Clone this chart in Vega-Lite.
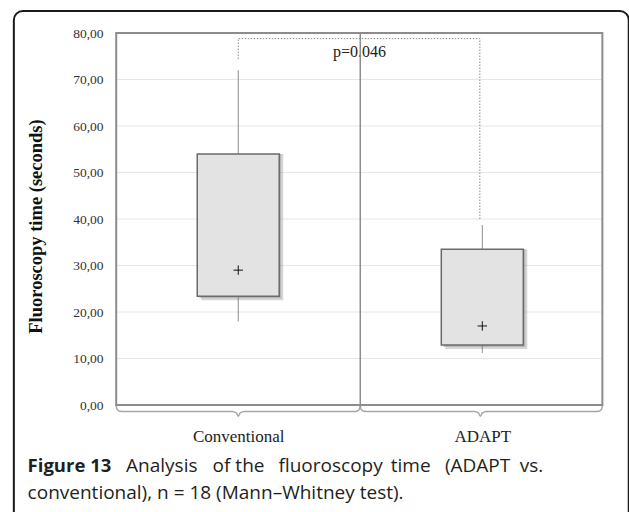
{
  "$schema": "https://vega.github.io/schema/vega-lite/v6.json",
  "width": 629,
  "height": 512,
  "autosize": {"type": "none"},
  "padding": 0,
  "background": "white",
  "config": {"view": {"stroke": null}},
  "datasets": {
    "boxes": [
      {"group": "Conventional", "pos": 1, "min": 18, "q1": 23.4, "q3": 54, "max": 72, "mean": 29},
      {"group": "ADAPT", "pos": 2, "min": 11.2, "q1": 12.9, "q3": 33.5, "max": 38.7, "mean": 17}
    ],
    "grid": [{"g": 10}, {"g": 20}, {"g": 30}, {"g": 40}, {"g": 50}, {"g": 60}, {"g": 70}],
    "bracket": [
      {"i": 0, "bx": 1, "by": 74.4},
      {"i": 1, "bx": 1, "by": 78.8},
      {"i": 2, "bx": 1.99, "by": 78.8},
      {"i": 3, "bx": 1.99, "by": 39.8}
    ],
    "braces": [
      {"b": "left", "i": 0, "x": 0.5, "y": 0},
      {"b": "left", "i": 1, "x": 0.503, "y": -0.9},
      {"b": "left", "i": 2, "x": 0.515, "y": -1.35},
      {"b": "left", "i": 3, "x": 0.53, "y": -1.4},
      {"b": "left", "i": 4, "x": 0.975, "y": -1.4},
      {"b": "left", "i": 5, "x": 0.992, "y": -1.7},
      {"b": "left", "i": 6, "x": 1.0, "y": -2.4},
      {"b": "left", "i": 7, "x": 1.008, "y": -1.7},
      {"b": "left", "i": 8, "x": 1.025, "y": -1.4},
      {"b": "left", "i": 9, "x": 1.47, "y": -1.4},
      {"b": "left", "i": 10, "x": 1.485, "y": -1.35},
      {"b": "left", "i": 11, "x": 1.497, "y": -0.9},
      {"b": "left", "i": 12, "x": 1.5, "y": 0},
      {"b": "right", "i": 0, "x": 1.5, "y": 0},
      {"b": "right", "i": 1, "x": 1.503, "y": -0.9},
      {"b": "right", "i": 2, "x": 1.515, "y": -1.35},
      {"b": "right", "i": 3, "x": 1.53, "y": -1.4},
      {"b": "right", "i": 4, "x": 1.967, "y": -1.4},
      {"b": "right", "i": 5, "x": 1.984, "y": -1.7},
      {"b": "right", "i": 6, "x": 1.992, "y": -2.4},
      {"b": "right", "i": 7, "x": 2.0, "y": -1.7},
      {"b": "right", "i": 8, "x": 2.017, "y": -1.4},
      {"b": "right", "i": 9, "x": 2.462, "y": -1.4},
      {"b": "right", "i": 10, "x": 2.477, "y": -1.35},
      {"b": "right", "i": 11, "x": 2.489, "y": -0.9},
      {"b": "right", "i": 12, "x": 2.492, "y": 0}
    ],
    "one": [{}]
  },
  "layer": [
    {
      "data": {"name": "boxes"},
      "mark": {"type": "rule", "opacity": 0},
      "encoding": {
        "x": {
          "field": "pos", "type": "quantitative",
          "scale": {"domain": [0.04435, 2.5806], "nice": false, "zero": false},
          "axis": {"values": [1, 2], "labelExpr": "datum.value == 1 ? 'Conventional' : 'ADAPT'", "offset": -107, "domain": false, "ticks": false, "grid": false, "labelPadding": 23, "labelFont": "Liberation Serif", "labelFontSize": 17, "labelColor": "#222", "title": null}
        },
        "y": {
          "field": "q1", "type": "quantitative",
          "scale": {"domain": [-23.01, 87.1], "nice": false, "zero": false},
          "axis": {"values": [0, 10, 20, 30, 40, 50, 60, 70, 80], "labelExpr": "replace(format(datum.value, '.2f'), '.', ',')", "offset": -113, "domain": false, "ticks": false, "grid": false, "labelPadding": 10, "labelFont": "Liberation Serif", "labelFontSize": 13.5, "labelColor": "#333", "title": "Fluoroscopy time (seconds)", "titleFont": "Liberation Serif", "titleFontSize": 18.5, "titleFontWeight": "bold", "titleColor": "#111", "titlePadding": 27, "titleY": 226}
        },
        "y2": {"field": "q3"}
      }
    },
    {
      "data": {"name": "one"},
      "mark": {"type": "rect", "fillOpacity": 0, "stroke": "#1a1a1a", "strokeWidth": 2, "cornerRadius": 9, "clip": false},
      "encoding": {
        "x": {"datum": 0.0806, "type": "quantitative"},
        "x2": {"datum": 2.6},
        "y": {"datum": 84.73, "type": "quantitative"},
        "y2": {"datum": -27}
      }
    },
    {
      "data": {"name": "grid"},
      "mark": {"type": "rule", "color": "#e6e6e6", "strokeWidth": 1},
      "encoding": {
        "y": {"field": "g", "type": "quantitative"},
        "x": {"datum": 0.5, "type": "quantitative"},
        "x2": {"datum": 2.492}
      }
    },
    {
      "data": {"name": "braces"},
      "mark": {"type": "line", "color": "#a6a6a6", "strokeWidth": 1.5, "interpolate": "monotone", "clip": false},
      "encoding": {
        "x": {"field": "x", "type": "quantitative"},
        "y": {"field": "y", "type": "quantitative"},
        "detail": {"field": "b"},
        "order": {"field": "i"}
      }
    },
    {
      "data": {"name": "one"},
      "mark": {"type": "rect", "fillOpacity": 0, "stroke": "#8c8c8c", "strokeWidth": 2},
      "encoding": {
        "x": {"datum": 0.5, "type": "quantitative"},
        "x2": {"datum": 2.492},
        "y": {"datum": 0, "type": "quantitative"},
        "y2": {"datum": 80}
      }
    },
    {
      "data": {"name": "boxes"},
      "mark": {"type": "rule", "color": "#8c8c8c", "strokeWidth": 1},
      "encoding": {
        "x": {"field": "pos", "type": "quantitative"},
        "y": {"field": "min", "type": "quantitative"},
        "y2": {"field": "q1"}
      }
    },
    {
      "data": {"name": "boxes"},
      "mark": {"type": "rule", "color": "#8c8c8c", "strokeWidth": 1},
      "encoding": {
        "x": {"field": "pos", "type": "quantitative"},
        "y": {"field": "q3", "type": "quantitative"},
        "y2": {"field": "max"}
      }
    },
    {
      "data": {"name": "bracket"},
      "mark": {"type": "line", "color": "#8c8c8c", "strokeWidth": 1, "strokeDash": [1.5, 1.5]},
      "encoding": {
        "x": {"field": "bx", "type": "quantitative"},
        "y": {"field": "by", "type": "quantitative"},
        "order": {"field": "i"}
      }
    },
    {
      "data": {"name": "one"},
      "mark": {"type": "text", "text": "p=0.046", "font": "Liberation Serif", "fontSize": 16, "color": "#222", "align": "center", "baseline": "middle"},
      "encoding": {
        "x": {"datum": 1.497, "type": "quantitative"},
        "y": {"datum": 75.9, "type": "quantitative"}
      }
    },
    {
      "data": {"name": "one"},
      "mark": {"type": "rule", "color": "#8c8c8c", "strokeWidth": 1.5},
      "encoding": {
        "x": {"datum": 1.5, "type": "quantitative"},
        "y": {"datum": -0.3, "type": "quantitative"},
        "y2": {"datum": 80}
      }
    },
    {
      "data": {"name": "boxes"},
      "mark": {"type": "bar", "width": 82, "color": "#7a7a7a", "opacity": 0.3, "xOffset": 4, "yOffset": 4},
      "encoding": {
        "x": {"field": "pos", "type": "quantitative"},
        "y": {"field": "q1", "type": "quantitative"},
        "y2": {"field": "q3"}
      }
    },
    {
      "data": {"name": "boxes"},
      "mark": {"type": "bar", "width": 82, "color": "#7a7a7a", "opacity": 0.35, "xOffset": 2, "yOffset": 2},
      "encoding": {
        "x": {"field": "pos", "type": "quantitative"},
        "y": {"field": "q1", "type": "quantitative"},
        "y2": {"field": "q3"}
      }
    },
    {
      "data": {"name": "boxes"},
      "mark": {"type": "bar", "width": 82, "fill": "#e3e3e3", "stroke": "#6b6b6b", "strokeWidth": 1.5},
      "encoding": {
        "x": {"field": "pos", "type": "quantitative"},
        "y": {"field": "q1", "type": "quantitative"},
        "y2": {"field": "q3"}
      }
    },
    {
      "data": {"name": "boxes"},
      "mark": {"type": "point", "shape": "M-1,0L1,0M0,-1L0,1", "size": 90, "filled": false, "color": "#111", "strokeWidth": 1, "opacity": 1},
      "encoding": {
        "x": {"field": "pos", "type": "quantitative"},
        "y": {"field": "mean", "type": "quantitative"}
      }
    },
    {
      "data": {"name": "one"},
      "mark": {"type": "text", "text": "Figure 13", "font": "Open Sans", "fontSize": 18.5, "fontWeight": "bold", "color": "#231f20", "align": "left", "baseline": "alphabetic"},
      "encoding": {
        "x": {"datum": 0.137, "type": "quantitative"},
        "y": {"datum": -14.5, "type": "quantitative"}
      }
    },
    {
      "data": {"name": "one"},
      "mark": {"type": "text", "text": "Analysis", "font": "Open Sans", "fontSize": 19, "color": "#231f20", "align": "left", "baseline": "alphabetic"},
      "encoding": {
        "x": {"datum": 0.5403, "type": "quantitative"},
        "y": {"datum": -14.5, "type": "quantitative"}
      }
    },
    {
      "data": {"name": "one"},
      "mark": {"type": "text", "text": "of the", "font": "Open Sans", "fontSize": 19, "color": "#231f20", "align": "left", "baseline": "alphabetic"},
      "encoding": {
        "x": {"datum": 0.895, "type": "quantitative"},
        "y": {"datum": -14.5, "type": "quantitative"}
      }
    },
    {
      "data": {"name": "one"},
      "mark": {"type": "text", "text": "fluoroscopy", "font": "Open Sans", "fontSize": 19, "color": "#231f20", "align": "left", "baseline": "alphabetic"},
      "encoding": {
        "x": {"datum": 1.165, "type": "quantitative"},
        "y": {"datum": -14.5, "type": "quantitative"}
      }
    },
    {
      "data": {"name": "one"},
      "mark": {"type": "text", "text": "time", "font": "Open Sans", "fontSize": 19, "color": "#231f20", "align": "left", "baseline": "alphabetic"},
      "encoding": {
        "x": {"datum": 1.625, "type": "quantitative"},
        "y": {"datum": -14.5, "type": "quantitative"}
      }
    },
    {
      "data": {"name": "one"},
      "mark": {"type": "text", "text": "(ADAPT", "font": "Open Sans", "fontSize": 19, "color": "#231f20", "align": "left", "baseline": "alphabetic"},
      "encoding": {
        "x": {"datum": 1.8468, "type": "quantitative"},
        "y": {"datum": -14.5, "type": "quantitative"}
      }
    },
    {
      "data": {"name": "one"},
      "mark": {"type": "text", "text": "vs.", "font": "Open Sans", "fontSize": 19, "color": "#231f20", "align": "left", "baseline": "alphabetic"},
      "encoding": {
        "x": {"datum": 2.1532, "type": "quantitative"},
        "y": {"datum": -14.5, "type": "quantitative"}
      }
    },
    {
      "data": {"name": "one"},
      "mark": {"type": "text", "text": "conventional), n = 18 (Mann–Whitney test).", "font": "Open Sans", "fontSize": 19, "color": "#231f20", "align": "left", "baseline": "alphabetic"},
      "encoding": {
        "x": {"datum": 0.137, "type": "quantitative"},
        "y": {"datum": -20.2, "type": "quantitative"}
      }
    }
  ]
}
